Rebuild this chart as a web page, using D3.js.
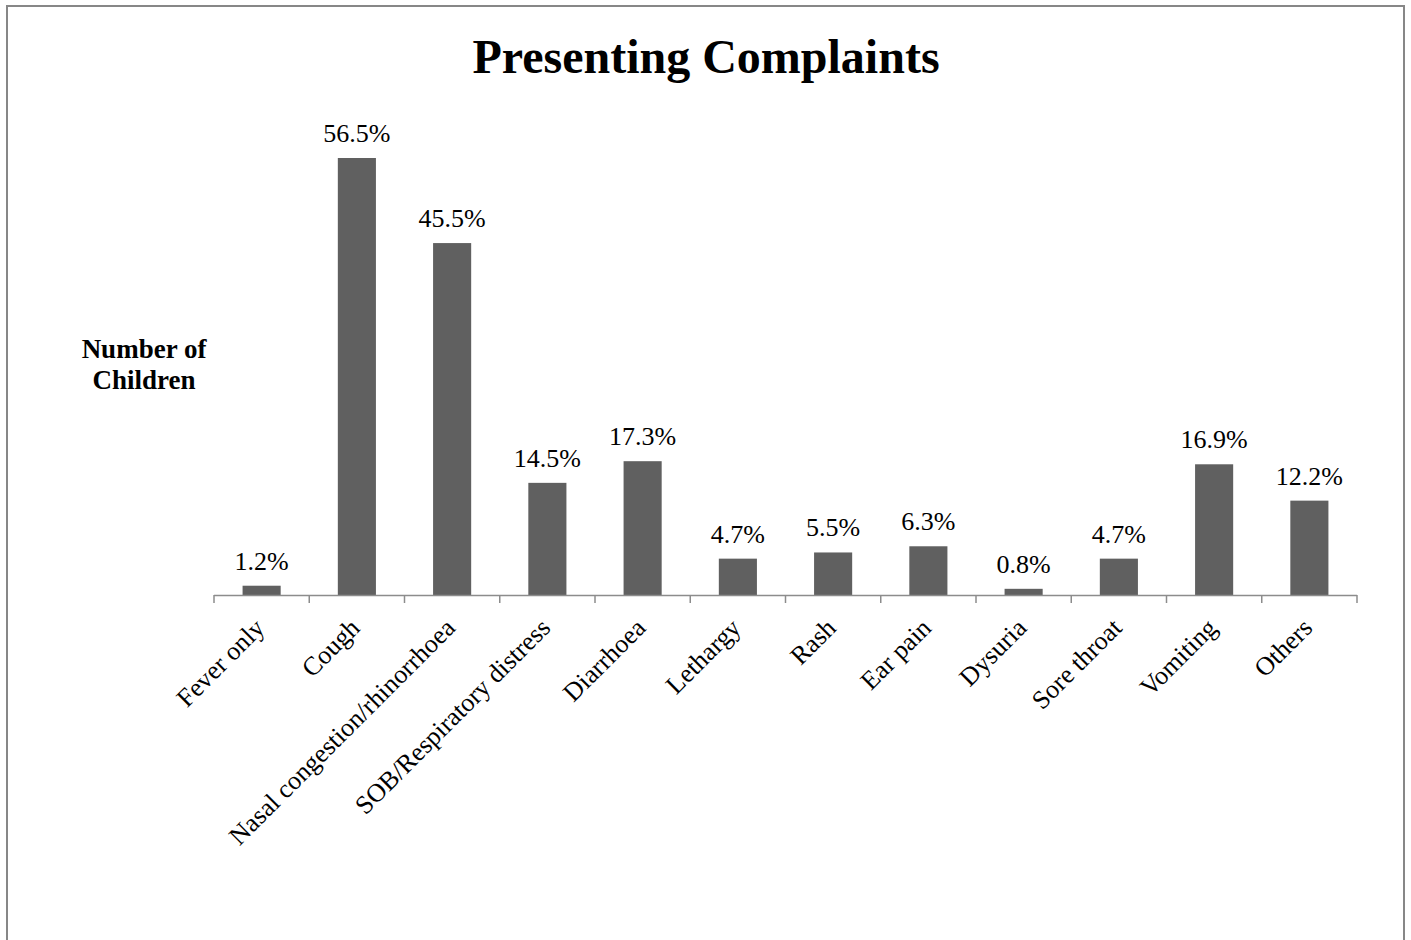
<!DOCTYPE html>
<html>
<head>
<meta charset="utf-8">
<script src="https://cdn.jsdelivr.net/npm/d3@7"></script>
<style>
  html, body { margin: 0; padding: 0; background: #fff; }
  svg { display: block; }
  text { font-family: "Liberation Serif", "Times New Roman", serif; fill: #000; }
</style>
</head>
<body>
<svg id="chart" width="1411" height="940"></svg>
<script>
const categories = ["Fever only", "Cough", "Nasal congestion/rhinorrhoea", "SOB/Respiratory distress",
  "Diarrhoea", "Lethargy", "Rash", "Ear pain", "Dysuria", "Sore throat", "Vomiting", "Others"];
const values = [1.2, 56.5, 45.5, 14.5, 17.3, 4.7, 5.5, 6.3, 0.8, 4.7, 16.9, 12.2];
const valueLabels = ["1.2%", "56.5%", "45.5%", "14.5%", "17.3%", "4.7%", "5.5%", "6.3%", "0.8%", "4.7%", "16.9%", "12.2%"];
const title = "Presenting Complaints";
const yTitle = ["Number of", "Children"];

const svg = d3.select("#chart");

// outer frame
svg.append("rect")
  .attr("x", 7).attr("y", 6).attr("width", 1397).attr("height", 960)
  .attr("fill", "none").attr("stroke", "#878787").attr("stroke-width", 2);

const x0 = 214, x1 = 1357, yBase = 595;
const x = d3.scaleBand().domain(categories).range([x0, x1]).paddingInner(0.6).paddingOuter(0.3);
const y = d3.scaleLinear().domain([0, 60]).range([yBase, yBase - 60 * 437 / 56.5]);

// title
svg.append("text")
  .attr("x", 706).attr("y", 73)
  .attr("text-anchor", "middle")
  .style("font-size", "48px").style("font-weight", "bold")
  .text(title);

// y axis title
svg.append("text")
  .attr("x", 144).attr("y", 358)
  .attr("text-anchor", "middle")
  .style("font-size", "27px").style("font-weight", "bold")
  .selectAll("tspan").data(yTitle).join("tspan")
  .attr("x", 144).attr("dy", (d, i) => i === 0 ? 0 : 31)
  .text(d => d);

// bars
svg.append("g").selectAll("rect").data(categories).join("rect")
  .attr("x", d => x(d))
  .attr("width", x.bandwidth())
  .attr("y", (d, i) => y(values[i]))
  .attr("height", (d, i) => yBase - y(values[i]))
  .attr("fill", "#606060");

// value labels
svg.append("g").selectAll("text").data(categories).join("text")
  .attr("x", d => x(d) + x.bandwidth() / 2)
  .attr("y", (d, i) => y(values[i]) - 16)
  .attr("text-anchor", "middle")
  .style("font-size", "26px")
  .text((d, i) => valueLabels[i]);

// x axis with ticks at category boundaries
const axisG = svg.append("g");
axisG.append("line")
  .attr("x1", x0).attr("x2", x1).attr("y1", yBase + 0.5).attr("y2", yBase + 0.5)
  .attr("stroke", "#8c8c8c").attr("stroke-width", 1.5);
const bounds = categories.map(d => x(d) - x.step() * x.paddingInner() / 2).concat([x1]);
axisG.selectAll("line.tick").data(bounds).join("line")
  .attr("class", "tick")
  .attr("x1", d => d).attr("x2", d => d)
  .attr("y1", yBase).attr("y2", yBase + 8)
  .attr("stroke", "#8c8c8c").attr("stroke-width", 1.5);

// category labels
svg.append("g").selectAll("text").data(categories).join("text")
  .attr("transform", d => `translate(${x(d) + x.bandwidth() / 2 - 2},${yBase + 28}) rotate(-45)`)
  .attr("text-anchor", "end")
  .attr("dy", "0.35em")
  .style("font-size", "26px")
  .text(d => d);
</script>
</body>
</html>
